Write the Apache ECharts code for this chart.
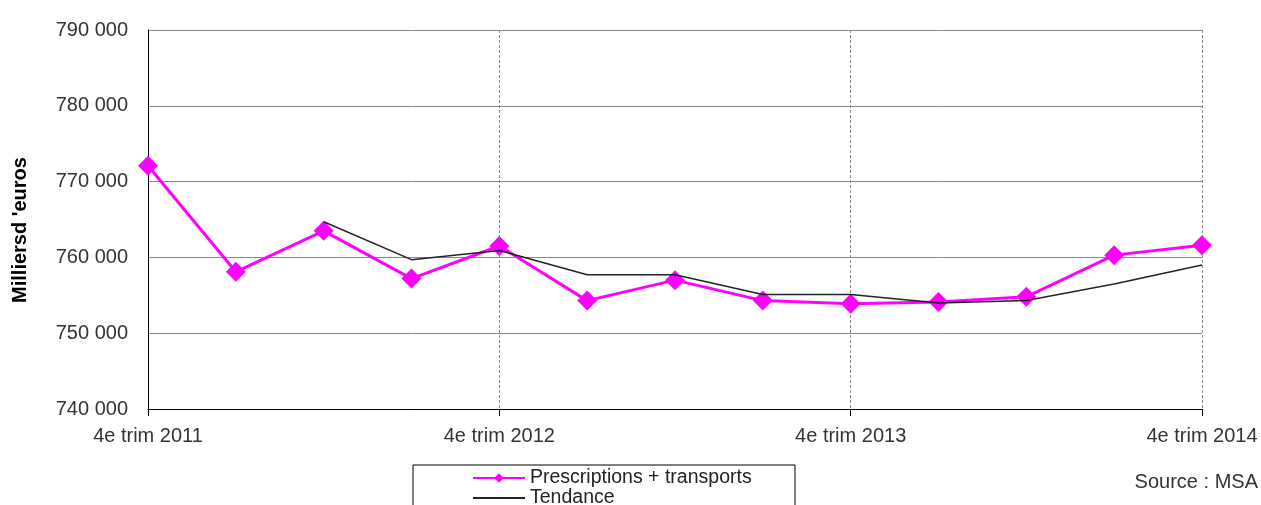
<!DOCTYPE html>
<html lang="fr">
  <head>
    <meta charset="UTF-8" />
    <title>Prescriptions + transports</title>
    <script src="https://cdn.jsdelivr.net/npm/echarts@6/dist/echarts.min.js"></script>
    <style>
      html, body { margin: 0; padding: 0; background: #fff; }
      #main { width: 1261px; height: 505px; }
    </style>
  </head>
  <body>
    <div id="main"></div>

    <script>
      const quarters = [
        '4e trim 2011', '1er trim 2012', '2e trim 2012', '3e trim 2012',
        '4e trim 2012', '1er trim 2013', '2e trim 2013', '3e trim 2013',
        '4e trim 2013', '1er trim 2014', '2e trim 2014', '3e trim 2014',
        '4e trim 2014',
      ];
      const prescriptions = [
        772100, 758100, 763500, 757200, 761500, 754300, 757000,
        754300, 753900, 754100, 754800, 760300, 761600,
      ];
      const tendance = [
        '-', '-', 764700, 759700, 760900, 757700, 757700,
        755100, 755100, 754000, 754300, 756500, 759000,
      ];

      const font = 'Liberation Sans, Arial, sans-serif';
      const fmt = (v) => String(v).replace(/\B(?=(\d{3})+(?!\d))/g, ' ');

      const options = {
        animation: false,
        textStyle: { fontFamily: font },
        grid: { left: 148, right: 59, top: 30, bottom: 96 },
        xAxis: {
          type: 'category',
          data: quarters,
          boundaryGap: false,
          axisLine: { lineStyle: { color: '#000', width: 1 } },
          axisTick: { interval: 3, length: 7, lineStyle: { color: '#000' } },
          axisLabel: { interval: 3, color: '#333', fontSize: 20, margin: 17 },
          splitLine: {
            show: true,
            interval: 3,
            lineStyle: { color: '#888', type: [3, 2], width: 1 },
          },
        },
        yAxis: {
          type: 'value',
          min: 740000,
          max: 790000,
          interval: 10000,
          axisLine: { show: true, lineStyle: { color: '#000', width: 1 } },
          axisTick: { show: false },
          axisLabel: { color: '#333', fontSize: 20, margin: 20, formatter: fmt },
          splitLine: { lineStyle: { color: '#888', width: 1 } },
        },
        legend: {
          left: 467,
          top: 463,
          height: 80,
          orient: 'vertical',
          itemGap: 0,
          itemWidth: 52,
          itemHeight: 12,
          textStyle: { fontSize: 19.5, lineHeight: 20, color: '#222', fontFamily: font },
          data: [
            { name: 'Prescriptions + transports' },
            { name: 'Tendance', itemStyle: { color: 'rgba(0,0,0,0)', opacity: 0 } },
          ],
        },
        graphic: [
          {
            type: 'rect',
            shape: { x: 413, y: 465, width: 382, height: 60 },
            style: { fill: 'none', stroke: '#000', lineWidth: 1 },
            silent: true,
          },
          {
            type: 'text',
            right: 3,
            top: 472,
            style: { text: 'Source : MSA', fontSize: 20, fill: '#333', fontFamily: font },
          },
          {
            type: 'text',
            x: 20,
            y: 230,
            rotation: Math.PI / 2,
            style: {
              text: "Milliersd 'euros",
              fontSize: 20,
              fontWeight: 'bold',
              fill: '#000',
              fontFamily: font,
              align: 'center',
              verticalAlign: 'middle',
            },
          },
        ],
        series: [
          {
            name: 'Tendance',
            type: 'line',
            data: tendance,
            symbol: 'none',
            lineStyle: { color: '#222', width: 1.5 },
            itemStyle: { color: '#222' },
            z: 3,
          },
          {
            name: 'Prescriptions + transports',
            type: 'line',
            data: prescriptions,
            symbol: 'diamond',
            symbolSize: 20,
            lineStyle: { color: '#ff00ff', width: 3 },
            itemStyle: { color: '#ff00ff' },
            z: 2,
          },
        ],
      };

      const myChart = echarts.init(document.getElementById('main'));
      myChart.setOption(options);
    </script>
  </body>
</html>
